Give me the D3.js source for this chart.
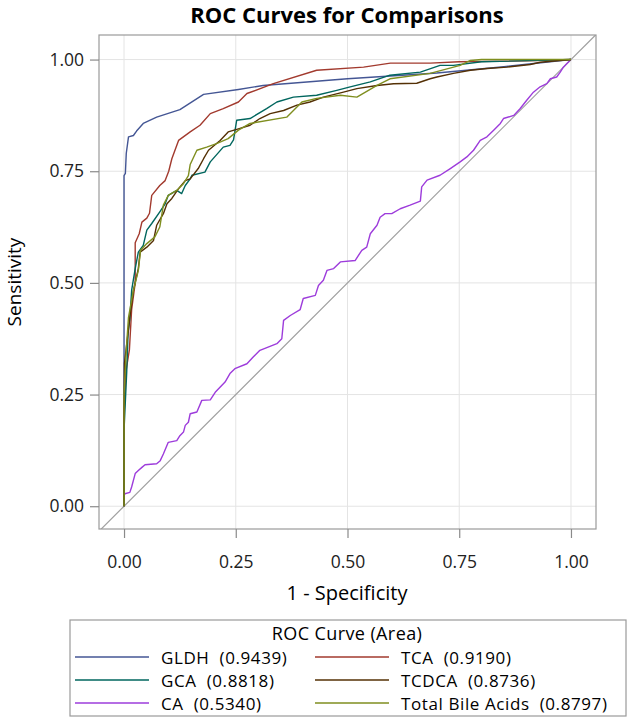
<!DOCTYPE html>
<html>
<head>
<meta charset="utf-8">
<script src="https://cdn.jsdelivr.net/npm/d3@7"></script>
<style>
  html, body { margin: 0; padding: 0; background: #fff; }
  svg { display: block; font-family: "Open Sans", "Noto Sans", sans-serif; }
</style>
</head>
<body>
<svg id="chart" width="632" height="719"></svg>
<script>
// ---- data (1 - specificity, sensitivity) ----
const seriesNames = ["GLDH", "TCA", "GCA", "TCDCA", "CA", "Total Bile Acids"];
const areas = ["0.9439", "0.9190", "0.8818", "0.8736", "0.5340", "0.8797"];
const seriesColors = ["#445694", "#A23A2E", "#01665E", "#543005", "#9D3CDB", "#7F8E1F"];
const ticks = [0, 0.25, 0.5, 0.75, 1];
const tickLabels = ["0.00", "0.25", "0.50", "0.75", "1.00"];

const gldh = [[0,0],[0,0.74],[0.003,0.745],[0.005,0.79],[0.01,0.827],[0.021,0.83],[0.028,0.84],[0.043,0.857],[0.073,0.871],[0.125,0.888],[0.178,0.922],[0.256,0.933],[0.311,0.942],[0.5,0.957],[0.64,0.966],[0.7,0.97],[0.85,0.984],[1,1]];
const tca = [[0,0],[0,0.2],[0.004,0.3],[0.012,0.35],[0.017,0.44],[0.025,0.5],[0.025,0.59],[0.034,0.61],[0.04,0.636],[0.051,0.645],[0.057,0.656],[0.062,0.696],[0.08,0.718],[0.092,0.729],[0.1,0.75],[0.107,0.778],[0.122,0.819],[0.148,0.838],[0.17,0.853],[0.193,0.879],[0.222,0.89],[0.256,0.905],[0.275,0.924],[0.334,0.946],[0.431,0.976],[0.536,0.983],[0.596,0.992],[0.685,0.992],[0.75,0.995],[0.9,0.997],[1,1]];
const gca = [[0,0],[0,0.17],[0.006,0.3],[0.009,0.387],[0.013,0.42],[0.017,0.483],[0.025,0.532],[0.032,0.569],[0.043,0.584],[0.051,0.618],[0.062,0.633],[0.08,0.659],[0.092,0.677],[0.099,0.696],[0.118,0.707],[0.129,0.7],[0.137,0.718],[0.148,0.733],[0.152,0.741],[0.181,0.748],[0.193,0.771],[0.222,0.804],[0.237,0.808],[0.245,0.82],[0.252,0.864],[0.282,0.868],[0.319,0.89],[0.342,0.905],[0.379,0.916],[0.431,0.92],[0.476,0.931],[0.506,0.939],[0.551,0.95],[0.595,0.965],[0.663,0.972],[0.707,0.987],[0.737,0.987],[0.8,0.995],[1,1]];
const tcdca = [[0,0],[0,0.21],[0.001,0.32],[0.008,0.38],[0.013,0.423],[0.021,0.483],[0.032,0.532],[0.036,0.569],[0.051,0.58],[0.066,0.595],[0.073,0.629],[0.088,0.655],[0.096,0.677],[0.107,0.689],[0.122,0.711],[0.137,0.729],[0.148,0.733],[0.166,0.756],[0.178,0.778],[0.189,0.797],[0.215,0.819],[0.233,0.838],[0.256,0.845],[0.282,0.853],[0.304,0.868],[0.327,0.879],[0.357,0.886],[0.387,0.898],[0.416,0.905],[0.446,0.916],[0.491,0.927],[0.521,0.935],[0.566,0.942],[0.603,0.946],[0.655,0.947],[0.685,0.957],[0.7,0.961],[0.737,0.969],[0.775,0.976],[0.812,0.98],[0.857,0.983],[0.909,0.989],[0.931,0.994],[1,1]];
const ca = [[0,0],[0,0.024],[0.002,0.028],[0.013,0.031],[0.017,0.043],[0.025,0.073],[0.032,0.08],[0.04,0.087],[0.047,0.093],[0.073,0.095],[0.081,0.102],[0.088,0.117],[0.099,0.143],[0.118,0.147],[0.125,0.158],[0.133,0.166],[0.137,0.181],[0.144,0.188],[0.148,0.207],[0.163,0.211],[0.174,0.237],[0.193,0.238],[0.204,0.255],[0.226,0.278],[0.237,0.297],[0.248,0.308],[0.275,0.319],[0.289,0.334],[0.304,0.349],[0.342,0.364],[0.353,0.375],[0.357,0.416],[0.372,0.427],[0.394,0.44],[0.401,0.465],[0.428,0.472],[0.435,0.494],[0.446,0.506],[0.454,0.528],[0.469,0.532],[0.484,0.547],[0.517,0.55],[0.532,0.573],[0.543,0.58],[0.551,0.61],[0.566,0.629],[0.573,0.647],[0.584,0.655],[0.599,0.655],[0.618,0.666],[0.64,0.674],[0.663,0.683],[0.666,0.715],[0.678,0.73],[0.707,0.741],[0.73,0.756],[0.752,0.771],[0.767,0.782],[0.782,0.797],[0.797,0.819],[0.812,0.827],[0.827,0.842],[0.842,0.857],[0.849,0.868],[0.872,0.875],[0.886,0.89],[0.901,0.909],[0.916,0.927],[0.931,0.939],[0.946,0.946],[0.954,0.957],[0.968,0.961],[0.976,0.972],[0.983,0.983],[0.991,0.991],[1,1]];
const totalBA = [[0,0],[0,0.25],[0.005,0.35],[0.01,0.423],[0.021,0.483],[0.032,0.528],[0.037,0.573],[0.051,0.588],[0.069,0.603],[0.08,0.625],[0.088,0.674],[0.099,0.696],[0.118,0.707],[0.133,0.722],[0.144,0.74],[0.148,0.765],[0.163,0.797],[0.185,0.804],[0.207,0.812],[0.233,0.823],[0.256,0.842],[0.282,0.857],[0.364,0.871],[0.398,0.905],[0.431,0.913],[0.484,0.92],[0.521,0.916],[0.566,0.942],[0.595,0.957],[0.685,0.969],[0.752,0.987],[0.775,0.998],[0.8,1],[1,1]];
const seriesData = [gldh, tca, gca, tcdca, ca, totalBA];

// ---- layout ----
const svg = d3.select("#chart");
const frame = { left: 99, right: 596, top: 35, bottom: 529 };
const x = d3.scaleLinear().domain([-0.056, 1.056]).range([frame.left, frame.right]);
const y = d3.scaleLinear().domain([-0.051, 1.055]).range([frame.bottom, frame.top]);

// title
svg.append("text").attr("x", 347).attr("y", 23).attr("text-anchor", "middle")
  .attr("font-size", 22).attr("font-weight", "bold").attr("fill", "#000")
  .text("ROC Curves for Comparisons");

// grid
const grid = svg.append("g");
grid.selectAll(".gx").data(ticks).enter().append("line")
  .attr("x1", d => x(d)).attr("x2", d => x(d)).attr("y1", frame.top).attr("y2", frame.bottom)
  .attr("stroke", "#e4e4e4").attr("stroke-width", 1);
grid.selectAll(".gy").data(ticks).enter().append("line")
  .attr("y1", d => y(d)).attr("y2", d => y(d)).attr("x1", frame.left).attr("x2", frame.right)
  .attr("stroke", "#e4e4e4").attr("stroke-width", 1);

// clip
svg.append("clipPath").attr("id", "clip").append("rect")
  .attr("x", frame.left).attr("y", frame.top)
  .attr("width", frame.right - frame.left).attr("height", frame.bottom - frame.top);

// diagonal reference
svg.append("line").attr("clip-path", "url(#clip)")
  .attr("x1", x(-0.1)).attr("y1", y(-0.1)).attr("x2", x(1.1)).attr("y2", y(1.1))
  .attr("stroke", "#a0a0a0").attr("stroke-width", 1.2);

// curves
const line = d3.line().x(d => x(d[0])).y(d => y(d[1])).curve(d3.curveLinear);
const curves = svg.append("g").attr("clip-path", "url(#clip)");
const drawOrder = [4, 0, 1, 2, 3, 5];
drawOrder.forEach(i => {
  curves.append("path").datum(seriesData[i]).attr("d", line)
    .attr("fill", "none").attr("stroke", seriesColors[i]).attr("stroke-width", 1.4)
    .attr("stroke-linejoin", "round");
});

// frame
svg.append("rect").attr("x", frame.left).attr("y", frame.top)
  .attr("width", frame.right - frame.left).attr("height", frame.bottom - frame.top)
  .attr("fill", "none").attr("stroke", "#9a9a9a").attr("stroke-width", 1.2);

// axes
const fmt = d => tickLabels[ticks.indexOf(d)];
const xAxis = svg.append("g").attr("transform", `translate(0,${frame.bottom})`)
  .call(d3.axisBottom(x).tickValues(ticks).tickFormat(fmt).tickSize(9).tickPadding(18));
const yAxis = svg.append("g").attr("transform", `translate(${frame.left},0)`)
  .call(d3.axisLeft(y).tickValues(ticks).tickFormat(fmt).tickSize(9).tickPadding(6));
[xAxis, yAxis].forEach(a => {
  a.select(".domain").remove();
  a.selectAll(".tick line").attr("stroke", "#8a8a8a").attr("stroke-width", 1.2);
  a.selectAll(".tick text").attr("font-size", 17.5).attr("fill", "#222")
    .attr("font-family", "'Open Sans', 'Noto Sans', sans-serif");
});

// axis labels
svg.append("text").attr("x", 347).attr("y", 600).attr("text-anchor", "middle")
  .attr("font-size", 20).attr("fill", "#000").text("1 - Specificity");
svg.append("text").attr("transform", "translate(21,282) rotate(-90)").attr("text-anchor", "middle")
  .attr("font-size", 19).attr("fill", "#000").text("Sensitivity");

// legend
const lg = svg.append("g");
lg.append("rect").attr("x", 70).attr("y", 620).attr("width", 556).attr("height", 96)
  .attr("fill", "#fff").attr("stroke", "#9a9a9a").attr("stroke-width", 1.2);
lg.append("text").attr("x", 347).attr("y", 640).attr("text-anchor", "middle")
  .attr("font-size", 18).attr("letter-spacing", 0.4).attr("fill", "#000").text("ROC Curve (Area)");
const legendOrder = [0, 1, 2, 3, 4, 5];
legendOrder.forEach((i, k) => {
  const col = k % 2, row = Math.floor(k / 2);
  const lx = col === 0 ? 75 : 315;
  const ly = 657 + row * 23;
  lg.append("line").attr("x1", lx).attr("x2", lx + 74).attr("y1", ly).attr("y2", ly)
    .attr("stroke", seriesColors[i]).attr("stroke-width", 1.4);
  lg.append("text").attr("x", lx + 86).attr("y", ly + 6.5).attr("font-size", 17)
    .attr("letter-spacing", 0.6).attr("fill", "#000")
    .attr("xml:space", "preserve")
    .text(seriesNames[i] + "  (" + areas[i] + ")");
});
</script>
</body>
</html>
